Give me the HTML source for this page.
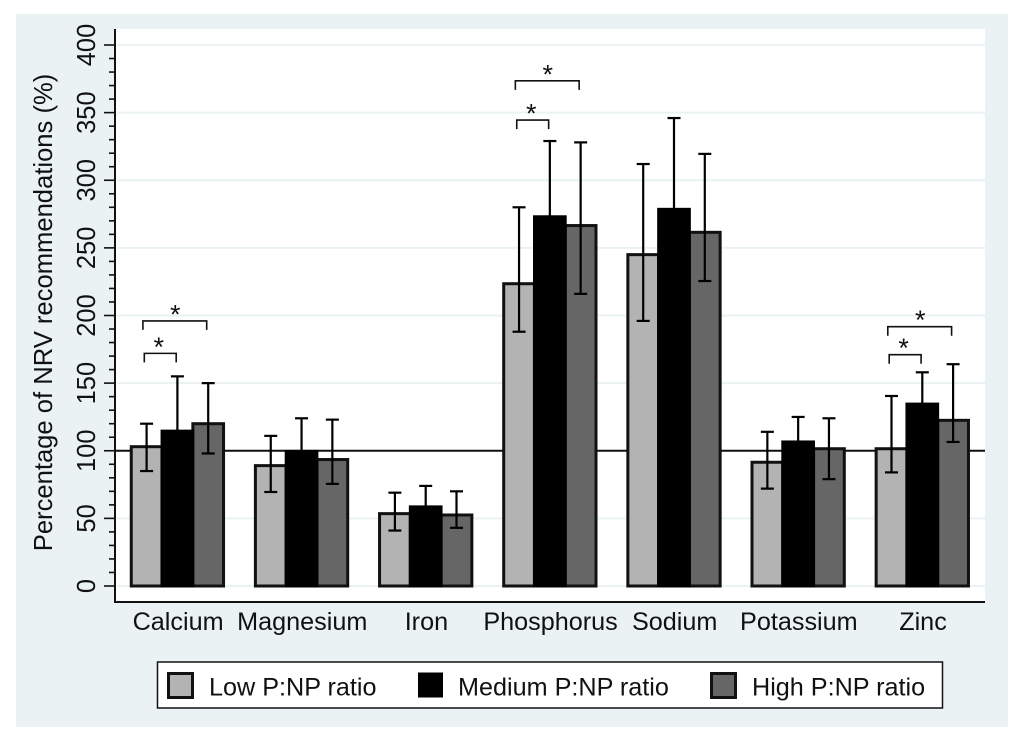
<!DOCTYPE html>
<html lang="en">
<head>
<meta charset="utf-8">
<title>Percentage of NRV recommendations by P:NP ratio</title>
<style>
  html, body { margin: 0; padding: 0; background: #ffffff; }
  #chart { display: block; width: 1024px; height: 742px; font-family: "Liberation Sans", Arial, sans-serif; filter: blur(0.35px); }
  text { fill: #111111; font-family: "Liberation Sans", Arial, sans-serif; }
</style>
</head>
<body>
<svg id="chart" xmlns="http://www.w3.org/2000/svg" width="1024" height="742" viewBox="0 0 1024 742">
  <rect x="0" y="0" width="1024" height="742" fill="#ffffff"/>
  <rect x="16" y="14" width="992" height="713" fill="#eaf2f3"/>
  <rect x="115" y="29" width="870" height="573" fill="#ffffff"/>
  <g id="grid"></g>
  <line id="refLine" x1="115" x2="985" stroke="#111111" stroke-width="2"/>
  <g id="bars"></g>
  <g id="errors"></g>
  <g id="brackets"></g>
  <g id="yaxis"></g>
  <g id="xaxis"></g>
  <text x="52" y="312.5" font-size="25.6" text-anchor="middle" transform="rotate(-90 52 312.5)">Percentage of NRV recommendations (%)</text>
  <g>
    <rect x="157.5" y="662" width="785" height="46" fill="#ffffff" stroke="#111111" stroke-width="1.5"/>
    <rect x="168.5" y="673.5" width="24" height="24" fill="#b3b3b3" stroke="#111111" stroke-width="3"/>
    <text x="209" y="695.5" font-size="25.2">Low P:NP ratio</text>
    <rect x="418" y="672.5" width="25" height="25" fill="#000000"/>
    <text x="458" y="695.5" font-size="25.2">Medium P:NP ratio</text>
    <rect x="711.5" y="673.5" width="24" height="24" fill="#666666" stroke="#111111" stroke-width="3"/>
    <text x="752" y="695.5" font-size="25.2">High P:NP ratio</text>
  </g>
</svg>
<script>
const categories = ["Calcium", "Magnesium", "Iron", "Phosphorus", "Sodium", "Potassium", "Zinc"];
const seriesNames = ["low", "medium", "high"];
const lowValues = [103, 89, 53.5, 223.5, 245, 91.5, 101.5];
const mediumValues = [114.5, 99.5, 58.5, 273, 278.5, 106.5, 134.5];
const highValues = [120, 93.5, 52.5, 266.5, 261.5, 101.5, 122.5];
const lowUpper = [120, 111, 69, 280, 312, 114, 140.5];
const lowLower = [85, 69.5, 41, 188, 196, 72, 84];
const mediumUpper = [155, 124, 74, 329, 346, 125, 158];
const mediumLower = [75, 76, 44, 218, 212, 89, 112];
const highUpper = [150, 123, 70, 328, 319.5, 124, 164];
const highLower = [98, 75.5, 43, 216, 225.5, 79, 106.5];
const yTickLabels = [0, 50, 100, 150, 200, 250, 300, 350, 400];
const yMinorTicks = [10, 20, 30, 40, 60, 70, 80, 90, 110, 120, 130, 140, 160, 170, 180, 190, 210, 220, 230, 240, 260, 270, 280, 290, 310, 320, 330, 340, 360, 370, 380, 390];
const bracketCategories = ["Calcium", "Calcium", "Phosphorus", "Phosphorus", "Zinc", "Zinc"];
const bracketEndSeries = ["high", "medium", "high", "medium", "high", "medium"];
const bracketLevels = [196, 172, 373.5, 344.5, 191.7, 171];
const referenceValue = 100;

const NS = "http://www.w3.org/2000/svg";
function yScale(v) { return 586 - v * 1.3525; }
function groupScale(i) { return 177.4 + i * 124.15; }
function seriesScale(i, s) { return groupScale(i) + (s - 1) * 30.8; }
function make(tag, parent) {
  const el = document.createElementNS(NS, tag);
  parent.appendChild(el);
  return el;
}
function set(el, props) {
  for (const k in props) el.setAttribute(k, props[k]);
  return el;
}

document.getElementById("refLine").setAttribute("y1", yScale(referenceValue));
document.getElementById("refLine").setAttribute("y2", yScale(referenceValue));

const grid = document.getElementById("grid");
const yaxis = document.getElementById("yaxis");
const xaxis = document.getElementById("xaxis");
yTickLabels.forEach(function (t) {
  const g = make("line", grid);
  
  
  set(g, { x1: 117, x2: 985, y1: yScale(t), y2: yScale(t), stroke: "#eaf2f3", "stroke-width": 2 });
  const tick = make("line", yaxis);
  
  
  set(tick, { x1: 104, x2: 115, y1: yScale(t), y2: yScale(t), stroke: "#111111", "stroke-width": 1.6 });
  const label = make("text", yaxis);
  
  
  set(label, { x: 95, y: yScale(t), "font-size": 25.5, "text-anchor": "middle", transform: "rotate(-90 95 " + yScale(t) + ")" });
  label.textContent = t;
});
yMinorTicks.forEach(function (t) {
  const tick = make("line", yaxis);
  
  
  set(tick, { x1: 109, x2: 115, y1: yScale(t), y2: yScale(t), stroke: "#111111", "stroke-width": 1.6 });
});
const yLine = make("line", yaxis);


set(yLine, { x1: 115, x2: 115, y1: 29, y2: 603, stroke: "#111111", "stroke-width": 2 });
const xLine = make("line", xaxis);


set(xLine, { x1: 114, x2: 985, y1: 602, y2: 602, stroke: "#111111", "stroke-width": 2 });
categories.forEach(function (c, i) {
  const label = make("text", xaxis);
  
  
  set(label, { x: groupScale(i) + 0.7, y: 630, "font-size": 25.2, "text-anchor": "middle" });
  label.textContent = c;
});

const valuesBySeries = [lowValues, mediumValues, highValues];
const upperBySeries = [lowUpper, mediumUpper, highUpper];
const lowerBySeries = [lowLower, mediumLower, highLower];
const fills = ["#b3b3b3", "#000000", "#666666"];
const barsG = document.getElementById("bars");
const errorsG = document.getElementById("errors");
const barWidth = 30.7;
[0, 2, 1].forEach(function (s) {
  categories.forEach(function (c, i) {
    const x = seriesScale(i, s);
    const bar = make("rect", barsG);
    
    
    set(bar, { x: x - barWidth / 2, y: yScale(valuesBySeries[s][i]), width: barWidth, height: yScale(0) - yScale(valuesBySeries[s][i]), fill: fills[s], stroke: s === 1 ? "#000000" : "#111111", "stroke-width": 3 });
  });
});
[0, 1, 2].forEach(function (s) {
  categories.forEach(function (c, i) {
    const x = seriesScale(i, s);
    const hi = yScale(upperBySeries[s][i]);
    const lo = yScale(lowerBySeries[s][i]);
    const stem = make("line", errorsG);
    
    
    set(stem, { x1: x, x2: x, y1: hi, y2: lo, stroke: "#000000", "stroke-width": 2.2 });
    const capTop = make("line", errorsG);
    
    
    set(capTop, { x1: x - 6.5, x2: x + 6.5, y1: hi, y2: hi, stroke: "#000000", "stroke-width": 2.2 });
    const capBottom = make("line", errorsG);
    
    
    set(capBottom, { x1: x - 6.5, x2: x + 6.5, y1: lo, y2: lo, stroke: "#000000", "stroke-width": 2.2 });
  });
});

const bracketsG = document.getElementById("brackets");
bracketLevels.forEach(function (level, n) {
  const i = categories.indexOf(bracketCategories[n]);
  const s = seriesNames.indexOf(bracketEndSeries[n]);
  const x1 = seriesScale(i, 0) - (s === 2 ? 3.7 : 2.3);
  const x2 = seriesScale(i, s) - (s === 2 ? 1.5 : 1.2);
  const y = yScale(level);
  const path = make("path", bracketsG);
  
  
  set(path, { d: "M" + x1 + " " + (y + 9) + "V" + y + "H" + x2 + "V" + (y + 9), fill: "none", stroke: "#111111", "stroke-width": 1.6 });
  const star = make("text", bracketsG);
  
  
  set(star, { x: (x1 + x2) / 2 + (s === 2 ? 0.5 : -1.5), y: y + 2.5, "font-size": 27, "text-anchor": "middle" });
  star.textContent = "*";
});
</script>
</body>
</html>
